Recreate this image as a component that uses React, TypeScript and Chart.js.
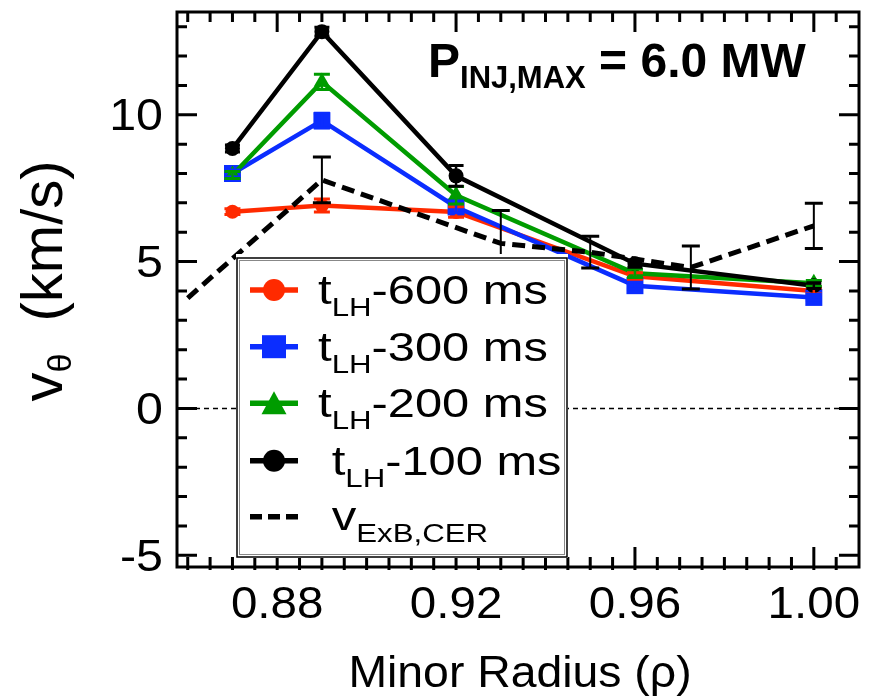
import React, { useEffect, useRef } from "react";
import { Chart, registerables } from "chart.js";

Chart.register(...registerables);

// Minor radius positions of the rotation profiles
const RHO_MODEL = [0.87, 0.89, 0.92, 0.96, 1.0];

// Poloidal rotation v_theta (km/s) at several times before the L-H transition
const V_600 = [6.7, 6.91, 6.69, 4.5, 4.0];
const E_600 = [0.1, 0.22, 0.18, 0.12, 0.1];
const V_300 = [8.0, 9.8, 6.86, 4.18, 3.78];
const E_300 = [0.12, 0.25, 0.2, 0.12, 0.1];
const V_200 = [7.95, 11.12, 7.26, 4.6, 4.26];
const E_200 = [0.12, 0.26, 0.3, 0.14, 0.1];
const V_100 = [8.85, 12.83, 7.92, 4.93, 4.18];
const E_100 = [0.12, 0.15, 0.35, 0.12, 0.1];

// ExB velocity from CER measurements
const RHO_EXB = [0.86, 0.89, 0.93, 0.95, 0.9725, 1.0];
const V_EXB = [3.76, 7.78, 5.62, 5.32, 4.8, 6.22];
const E_EXB = [0, 0.78, 1.12, 0.54, 0.73, 0.77];

const X_MIN = 0.8576;
const X_MAX = 1.0101;
const Y_MIN = -5.4;
const Y_MAX = 13.5;
const X_TICKS = [0.88, 0.92, 0.96, 1.0];
const X_TICK_LABELS = ["0.88", "0.92", "0.96", "1.00"];
const Y_TICKS = [-5, 0, 5, 10];
const Y_TICK_LABELS = ["-5", "0", "5", "10"];

const LEGEND_LABELS = ["-600 ms", "-300 ms", "-200 ms", "-100 ms"];

const RED = "#ff2a00";
const BLUE = "#0b2dff";
const GREEN = "#009c00";
const BLACK = "#000000";

const FONT = "'Liberation Sans', Arial, Helvetica, sans-serif";

type Part = { t: string; size: number; dy?: number; bold?: boolean; stretch?: number };

function partWidth(ctx: CanvasRenderingContext2D, p: Part) {
  ctx.font = `${p.bold ? "bold " : ""}${p.size}px ${FONT}`;
  return ctx.measureText(p.t).width * (p.stretch ?? 1);
}

function drawParts(ctx: CanvasRenderingContext2D, parts: Part[], x: number, y: number) {
  let cx = x;
  for (const p of parts) {
    const s = p.stretch ?? 1;
    ctx.save();
    ctx.font = `${p.bold ? "bold " : ""}${p.size}px ${FONT}`;
    ctx.textAlign = "left";
    ctx.textBaseline = "alphabetic";
    ctx.translate(cx, y + (p.dy ?? 0));
    ctx.scale(s, 1);
    ctx.fillStyle = "#000";
    ctx.fillText(p.t, 0, 0);
    ctx.restore();
    cx += partWidth(ctx, p);
  }
  return cx;
}

function toPoints(xs: number[], ys: number[]) {
  return xs.map((x, i) => ({ x, y: ys[i] }));
}

export default function App() {
  const ref = useRef<HTMLCanvasElement | null>(null);

  useEffect(() => {
    const canvas = ref.current;
    if (!canvas) return;

    const errors: { errs: number[]; color: string; cap: number; width: number }[] = [
      { errs: E_600, color: RED, cap: 16, width: 2.5 },
      { errs: E_300, color: BLUE, cap: 16, width: 2.5 },
      { errs: E_200, color: GREEN, cap: 16, width: 2.5 },
      { errs: E_100, color: BLACK, cap: 15, width: 2.5 },
      { errs: E_EXB, color: BLACK, cap: 18, width: 2 },
    ];

    const frame = {
      id: "frame",
      beforeDatasetsDraw(chart: any) {
        const { ctx, chartArea: a, scales } = chart;
        const y0 = scales.y.getPixelForValue(0);
        ctx.save();
        ctx.strokeStyle = "#000";
        ctx.lineWidth = 1.5;
        ctx.setLineDash([5, 4]);
        ctx.beginPath();
        ctx.moveTo(a.left, y0);
        ctx.lineTo(a.right, y0);
        ctx.stroke();
        ctx.restore();
      },
      afterDatasetsDraw(chart: any) {
        const { ctx, chartArea: a, scales } = chart;
        const xs = scales.x;
        const ys = scales.y;
        // error bars
        chart.data.datasets.forEach((ds: any, di: number) => {
          const e = errors[di];
          ctx.save();
          ctx.strokeStyle = e.color;
          ds.data.forEach((pt: any, i: number) => {
            const err = e.errs[i];
            if (!err) return;
            const px = xs.getPixelForValue(pt.x);
            const top = ys.getPixelForValue(pt.y + err);
            const bot = ys.getPixelForValue(pt.y - err);
            ctx.lineWidth = e.width;
            ctx.beginPath();
            ctx.moveTo(px, top);
            ctx.lineTo(px, bot);
            ctx.stroke();
            ctx.lineWidth = 3;
            ctx.beginPath();
            ctx.moveTo(px - e.cap / 2, top);
            ctx.lineTo(px + e.cap / 2, top);
            ctx.moveTo(px - e.cap / 2, bot);
            ctx.lineTo(px + e.cap / 2, bot);
            ctx.stroke();
          });
          ctx.restore();
        });

        // axes box and inward ticks
        ctx.save();
        ctx.strokeStyle = "#000";
        ctx.lineWidth = 3;
        ctx.strokeRect(a.left, a.top, a.right - a.left, a.bottom - a.top);
        ctx.beginPath();
        for (let i = 172; i <= 202; i++) {
          const v = i / 200;
          const px = xs.getPixelForValue(v);
          if (px <= a.left + 2 || px >= a.right - 2) continue;
          const major = i % 8 === 0;
          const len = major ? 20 : 10;
          ctx.moveTo(px, a.bottom + 3);
          ctx.lineTo(px, a.bottom - len);
          ctx.moveTo(px, a.top);
          ctx.lineTo(px, a.top + len);
        }
        for (let v = -5; v <= 13; v++) {
          const py = ys.getPixelForValue(v);
          const len = v % 5 === 0 ? 20 : 10;
          ctx.moveTo(a.left, py);
          ctx.lineTo(a.left + len, py);
          ctx.moveTo(a.right, py);
          ctx.lineTo(a.right - len, py);
        }
        ctx.stroke();
        ctx.restore();

        // tick labels
        ctx.save();
        X_TICKS.forEach((v, i) => {
          const p: Part = { t: X_TICK_LABELS[i], size: 44, stretch: 1.08 };
          const w = partWidth(ctx, p);
          drawParts(ctx, [p], xs.getPixelForValue(v) - w / 2, 618);
        });
        Y_TICKS.forEach((v, i) => {
          const p: Part = { t: Y_TICK_LABELS[i], size: 44, stretch: 1.1 };
          const w = partWidth(ctx, p);
          drawParts(ctx, [p], 163 - w, ys.getPixelForValue(v) + 15.5);
        });

        // axis titles
        const xt: Part = { t: "Minor Radius (\u03c1)", size: 45, stretch: 1.03 };
        drawParts(ctx, [xt], (a.left + a.right) / 2 - partWidth(ctx, xt) / 2 + 2, 687);

        const yParts: Part[] = [
          { t: "v", size: 58 },
          { t: "\u03b8", size: 34, dy: 9 },
          { t: "  (km/s)", size: 58 },
        ];
        const total = yParts.reduce((s, p) => s + partWidth(ctx, p), 0);
        ctx.translate(62, 281);
        ctx.rotate(-Math.PI / 2);
        drawParts(ctx, yParts, -total / 2, 0);
        ctx.restore();

        // power annotation
        drawParts(
          ctx,
          [
            { t: "P", size: 48, bold: true },
            { t: "INJ,MAX", size: 31, bold: true, dy: 11 },
            { t: " = 6.0 MW", size: 48, bold: true },
          ],
          428,
          77
        );
      },
      afterDraw(chart: any) {
        const { ctx } = chart;
        const bx = 237, by = 258, bw = 330, bh = 299;
        ctx.save();
        ctx.fillStyle = "#fff";
        ctx.fillRect(bx - 1, by - 4, bw + 2, bh + 5);
        ctx.strokeStyle = "#000";
        ctx.lineWidth = 1.5;
        ctx.strokeRect(bx, by, bw, bh);
        ctx.strokeStyle = "#888";
        ctx.lineWidth = 1;
        ctx.strokeRect(bx + 2.5, by + 2.5, bw - 5, bh - 5);

        const rowY = [290, 346.7, 403.3, 460.7, 516.7];
        const x1 = 250, x2 = 298, mx = 274;
        const styles = [
          { color: RED, marker: "circle" },
          { color: BLUE, marker: "rect" },
          { color: GREEN, marker: "triangle" },
          { color: BLACK, marker: "circle" },
        ];
        styles.forEach((s, i) => {
          const y = rowY[i];
          ctx.strokeStyle = s.color;
          ctx.fillStyle = s.color;
          ctx.lineWidth = 5.5;
          ctx.setLineDash([]);
          ctx.beginPath();
          ctx.moveTo(x1, y);
          ctx.lineTo(x2, y);
          ctx.stroke();
          ctx.beginPath();
          if (s.marker === "circle") {
            ctx.arc(mx, y, 11, 0, Math.PI * 2);
          } else if (s.marker === "rect") {
            ctx.rect(mx - 12, y - 11.5, 24, 23);
          } else {
            ctx.moveTo(mx, y - 12);
            ctx.lineTo(mx + 12.5, y + 11);
            ctx.lineTo(mx - 12.5, y + 11);
            ctx.closePath();
          }
          ctx.fill();
          const lead = i === 3 ? " t" : "t";
          drawParts(
            ctx,
            [
              { t: lead, size: 41, stretch: 1.2 },
              { t: "LH", size: 26, dy: 12, stretch: 1.2 },
              { t: LEGEND_LABELS[i], size: 41, stretch: 1.19 },
            ],
            318,
            y + 14
          );
        });
        const yd = rowY[4];
        ctx.strokeStyle = "#000";
        ctx.lineWidth = 5.5;
        ctx.setLineDash([12, 6]);
        ctx.beginPath();
        ctx.moveTo(x1, yd);
        ctx.lineTo(x2, yd);
        ctx.stroke();
        ctx.setLineDash([]);
        drawParts(
          ctx,
          [
            { t: " v", size: 41, stretch: 1.2 },
            { t: "ExB,CER", size: 26, dy: 12, stretch: 1.2 },
          ],
          318,
          yd + 13
        );
        ctx.restore();
      },
    };

    const chart = new Chart(canvas, {
      type: "line",
      data: {
        datasets: [
          {
            label: "tLH-600 ms",
            data: toPoints(RHO_MODEL, V_600),
            borderColor: RED,
            backgroundColor: RED,
            borderWidth: 4.5,
            pointStyle: "circle",
            pointRadius: 7,
            pointBorderWidth: 0,
            order: 5,
          },
          {
            label: "tLH-300 ms",
            data: toPoints(RHO_MODEL, V_300),
            borderColor: BLUE,
            backgroundColor: BLUE,
            borderWidth: 4.5,
            pointStyle: "rect",
            pointRadius: 12,
            pointBorderWidth: 0,
            order: 4,
          },
          {
            label: "tLH-200 ms",
            data: toPoints(RHO_MODEL, V_200),
            borderColor: GREEN,
            backgroundColor: GREEN,
            borderWidth: 4.5,
            pointStyle: "triangle",
            pointRadius: 9.5,
            pointBorderWidth: 0,
            order: 3,
          },
          {
            label: "tLH-100 ms",
            data: toPoints(RHO_MODEL, V_100),
            borderColor: BLACK,
            backgroundColor: BLACK,
            borderWidth: 4.5,
            pointStyle: "circle",
            pointRadius: 7.5,
            pointBorderWidth: 0,
            order: 2,
          },
          {
            label: "vExB,CER",
            data: toPoints(RHO_EXB, V_EXB),
            borderColor: BLACK,
            backgroundColor: BLACK,
            borderWidth: 5,
            borderDash: [13, 7],
            pointRadius: 0,
            order: 1,
          },
        ],
      },
      options: {
        responsive: false,
        devicePixelRatio: 1,
        animation: false,
        events: [],
        layout: { padding: { left: 177, top: 6, right: 9, bottom: 129 } },
        plugins: { legend: { display: false }, tooltip: { enabled: false } },
        scales: {
          x: { type: "linear", min: X_MIN, max: X_MAX, display: false },
          y: { type: "linear", min: Y_MIN, max: Y_MAX, display: false },
        },
      },
      plugins: [frame],
    });

    return () => chart.destroy();
  }, []);

  return (
    <div style={{ position: "absolute", left: 0, top: 0, width: 871, height: 696, background: "#fff" }}>
      <canvas ref={ref} width={871} height={696} style={{ display: "block" }} />
    </div>
  );
}
